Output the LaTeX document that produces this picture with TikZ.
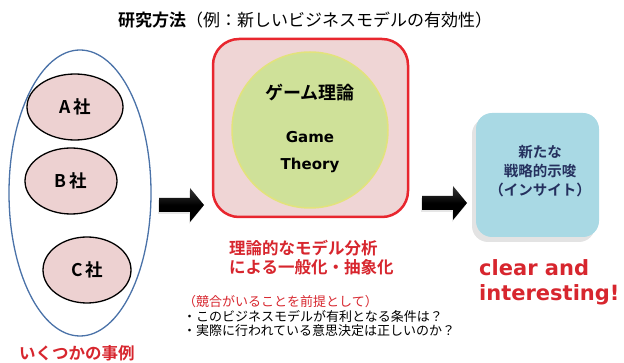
\documentclass[tikz,border=0pt]{standalone}
\usepackage{fontspec}
\usetikzlibrary{shapes.geometric,shadows}
\newfontfamily\jp{Noto Sans CJK JP}[BoldFont={Noto Sans CJK JP Bold}]
\newfontfamily\lat{DejaVu Sans}
\definecolor{redtxt}{HTML}{D7262E}
\definecolor{blueline}{HTML}{4A72A8}
\definecolor{pinkfill}{HTML}{EDD1D1}
\definecolor{boxred}{HTML}{E8262E}
\definecolor{boxfill}{HTML}{EFD5D5}
\definecolor{greenfill}{HTML}{CFE199}
\definecolor{greenedge}{HTML}{E2E37C}
\definecolor{bluefill}{HTML}{A9D9E4}
\definecolor{navy}{HTML}{25305E}
\tikzset{
  company/.style={ellipse, draw=black, line width=1.3pt, fill=pinkfill, inner sep=0,
    minimum height=66pt, font=\jp\bfseries\fontsize{17.5}{19}\selectfont},
  blockarrow/.style={top color=black!78, bottom color=black, middle color=black, draw=none,
    drop shadow={shadow xshift=-1pt, shadow yshift=-2pt, opacity=0.2}},
  redlabel/.style={text=redtxt, font=\jp\bfseries\fontsize{16.5}{19}\selectfont}
}
\begin{document}
\begin{tikzpicture}[x=1pt,y=-1pt]
\useasboundingbox (0,0) rectangle (624,363);
% title
\node[font=\jp\fontsize{17}{20}\selectfont, inner sep=0] (title) at (305,20)
  {\textbf{研究方法}（例：新しいビジネスモデルの有効性）};
% cases
\node[ellipse, draw=blueline, line width=1.3pt, minimum width=142pt, minimum height=286pt, inner sep=0] (cases) at (80,193) {};
\node[company, minimum width=96pt] (a) at (75,107) {A\,社};
\node[company, minimum width=92pt] (b) at (71,181) {B\,社};
\node[company, minimum width=88pt] (c) at (87,270) {C\,社};
\node[redlabel, inner sep=0] (caseslabel) at (77,353) {いくつかの事例};
% arrows
\coordinate (ar1) at (159,205);
\coordinate (ar2) at (422,203);
\foreach \p in {ar1,ar2}{
  \path[blockarrow] ([shift={(0,-7)}]\p) -- ++(31,0) -- ++(0,-10) -- ++(14,17)
    -- ++(-14,17) -- ++(0,-10) -- ++(-31,0) -- cycle;
}
% game theory box
\node[draw=boxred, line width=2.5pt, fill=boxfill, rounded corners=26pt,
  minimum width=195pt, minimum height=178pt, inner sep=0] (gbox) at (310.5,128) {};
\node[circle, fill=greenfill, draw=greenedge, line width=1.5pt, minimum size=156pt, inner sep=0] (gcirc) at (310,130) {};
\node[font=\jp\bfseries\fontsize{18}{20}\selectfont, inner sep=0] (gtitle) at (310,93) {ゲーム理論};
\node[font=\lat\bfseries\fontsize{15}{17}\selectfont, inner sep=0] (game) at (310,137) {Game};
\node[font=\lat\bfseries\fontsize{15}{17}\selectfont, inner sep=0] (theory) at (310,165) {Theory};
\node[redlabel, align=left, anchor=west, inner sep=0] (glabel) at (229,257.5)
  {理論的なモデル分析\\による一般化・抽象化};
% insight box
\node[fill=bluefill, rounded corners=16pt, minimum width=123pt, minimum height=124pt, inner sep=0,
  drop shadow={shadow xshift=-4pt, shadow yshift=-5pt, opacity=0.22}] (ibox) at (537.5,175) {};
\node[text=navy, align=center, font=\jp\bfseries\fontsize{14.5}{19}\selectfont, inner sep=0] (itext) at (540,171)
  {新たな\\戦略的示唆\\（インサイト）};
\node[text=redtxt, align=left, anchor=west, font=\lat\bfseries\fontsize{21}{25}\selectfont, inner sep=0] (clear) at (479,282.5)
  {clear and\\interesting!};
% bottom text
\node[align=left, anchor=west, font=\jp\fontsize{13}{14.5}\selectfont, inner sep=0] (notes) at (183,316)
  {\textcolor{redtxt}{（競合がいることを前提として）}\\・このビジネスモデルが有利となる条件は？\\・実際に行われている意思決定は正しいのか？};
\end{tikzpicture}
\end{document}
